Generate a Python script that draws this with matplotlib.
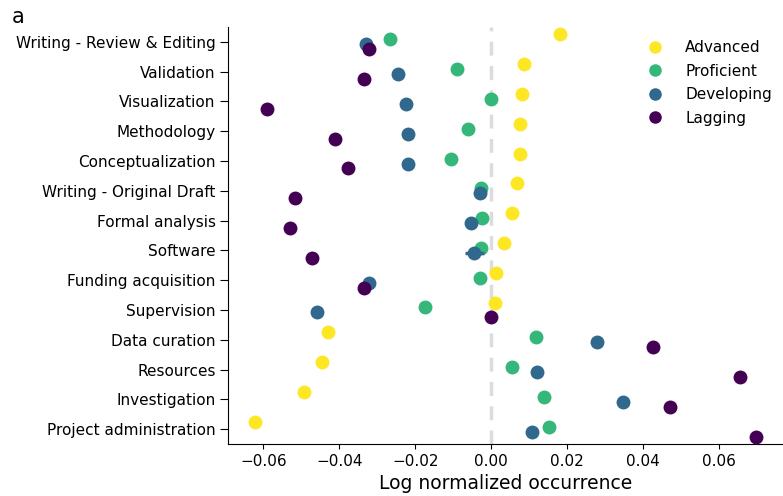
import numpy as np
import matplotlib
matplotlib.use("Agg")
import matplotlib.pyplot as plt

categories = ["Writing - Review & Editing", "Validation", "Visualization", "Methodology",
              "Conceptualization", "Writing - Original Draft", "Formal analysis", "Software",
              "Funding acquisition", "Supervision", "Data curation", "Resources",
              "Investigation", "Project administration"]
series_names = ["Advanced", "Proficient", "Developing", "Lagging"]

advanced = [0.0182, 0.0087, 0.0082, 0.0077, 0.0077, 0.0067, 0.0056, 0.0033,
            0.0012, 0.0011, -0.0429, -0.0447, -0.0493, -0.0623]
proficient = [-0.0267, -0.0090, 0.0001, -0.0060, -0.0105, -0.0027, -0.0024, -0.0026,
              -0.0030, -0.0175, 0.0118, 0.0056, 0.0140, 0.0153]
developing = [-0.0330, -0.0245, -0.0225, -0.0218, -0.0218, -0.0029, -0.0053, -0.0044,
              -0.0322, -0.0460, 0.0280, 0.0121, 0.0349, 0.0109]
lagging = [-0.0323, -0.0335, -0.0592, -0.0412, -0.0377, -0.0517, -0.0529, -0.0472,
           -0.0335, -0.0001, 0.0426, 0.0657, 0.0472, 0.0699]

advanced_err = [0.0004] * 14
proficient_err = [0.0004] * 14
developing_err = [0.0004, 0.0010, 0.0012, 0.0004, 0.0004, 0.0004, 0.0004, 0.0025,
                  0.0010, 0.0004, 0.0004, 0.0004, 0.0004, 0.0009]
lagging_err = [0.0004, 0.0004, 0.0004, 0.0004, 0.0004, 0.0004, 0.0004, 0.0012,
               0.0004, 0.0004, 0.0004, 0.0004, 0.0004, 0.0004]

colors = ["#fde725", "#35b779", "#31688e", "#440154"]

values = [advanced, proficient, developing, lagging]
errs = [advanced_err, proficient_err, developing_err, lagging_err]

fig = plt.figure(figsize=(7.83, 4.96), dpi=100)
ax = fig.add_axes([0.2912, 0.1048, 0.7088, 0.8408])

ax.axvline(0, color="#dcdcdc", linestyle=(0, (4, 3)), linewidth=2.5, zorder=0)

n = len(series_names)
offsets = np.linspace(-0.25, 0.25, n)
y = np.arange(len(categories))
for i, (name, vals, e, c) in enumerate(zip(series_names, values, errs, colors)):
    ax.errorbar(vals, y + offsets[i], xerr=e, fmt="o", color=c, ecolor=c,
                markersize=9, elinewidth=2.5, capsize=0, label=name, zorder=3 + i,
                linestyle="none")

ax.set_yticks(y)
ax.set_yticklabels(categories, fontsize=11)
ax.tick_params(axis="y", length=6, pad=3)
ax.set_ylim(len(categories) - 0.5, -0.5)
ax.tick_params(axis="x", labelsize=11)
ax.set_xlabel("Log normalized occurrence", fontsize=13.5, labelpad=4)
ax.spines["top"].set_visible(False)
ax.spines["right"].set_visible(False)

handles = [plt.Line2D([], [], marker="o", linestyle="none", color=c, markersize=8)
           for c in colors]
ax.legend(handles, series_names, loc="upper right", frameon=False, fontsize=11,
          bbox_to_anchor=(778 / 783, 1 - 34 / 496), bbox_transform=fig.transFigure,
          borderaxespad=0, handletextpad=1.0, labelspacing=0.56)

fig.text(0.015, 0.986, "a", fontsize=15, va="top", ha="left")

fig.savefig("out.png", dpi=100)
